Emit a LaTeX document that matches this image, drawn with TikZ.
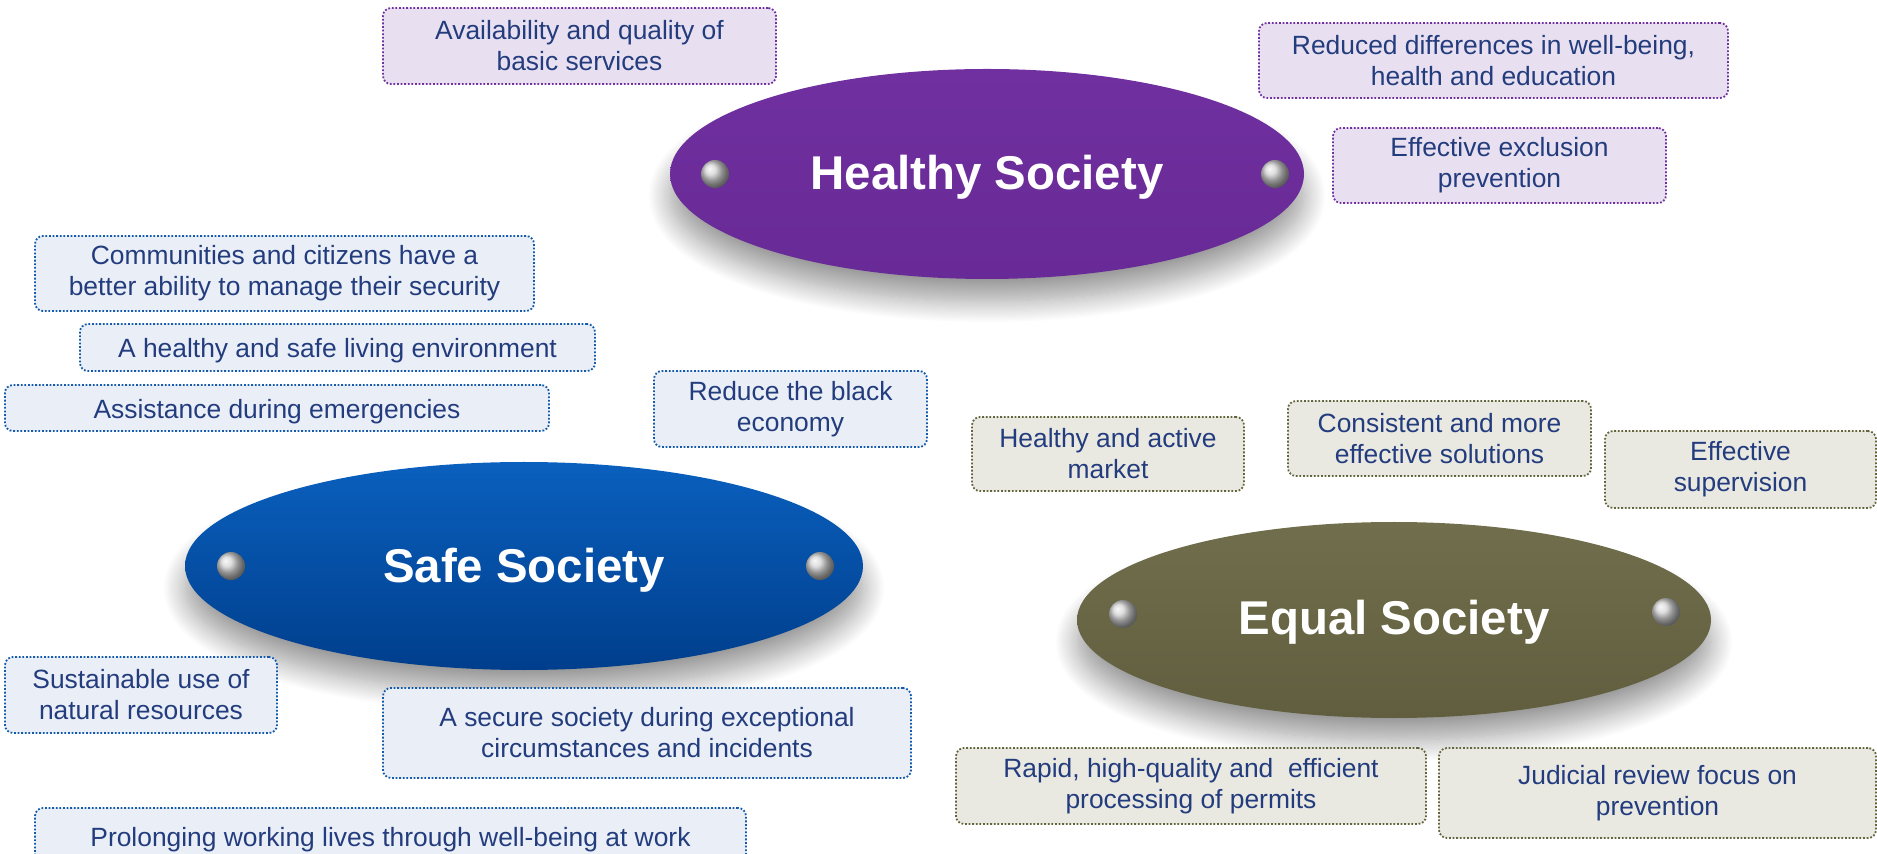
\documentclass[tikz,border=0pt]{standalone}
\usepackage{fontspec}
\setmainfont{Liberation Sans}
\usetikzlibrary{shapes.geometric,shadows.blur}
\definecolor{txtblue}{RGB}{35,60,125}
\definecolor{hpurple}{RGB}{112,48,160}
\definecolor{hpurpledark}{RGB}{104,42,150}
\definecolor{sblue}{RGB}{10,96,190}
\definecolor{sbluedark}{RGB}{0,62,140}
\definecolor{eolive}{RGB}{112,110,76}
\definecolor{eolivedark}{RGB}{96,94,62}
\definecolor{pfill}{RGB}{232,224,240}
\definecolor{bfill}{RGB}{234,239,247}
\definecolor{bline}{RGB}{20,90,170}
\definecolor{ofill}{RGB}{233,233,226}
\definecolor{oline}{RGB}{100,100,60}
\begin{document}
\begin{tikzpicture}[x=0.5pt,y=-0.5pt,
  goal/.style={ellipse,inner sep=0pt,text=white,font=\bfseries\fontsize{23.7}{26}\selectfont,
    blur shadow={shadow xshift=0pt,shadow yshift=-11pt,shadow blur radius=11pt,shadow blur steps=20,shadow opacity=40}},
  knob/.style={circle,minimum size=14pt,inner sep=0pt,shading=ball,ball color=gray!35},
  aim/.style={rounded corners=4pt,align=center,inner sep=0pt,text=txtblue,
    line width=0.9pt,dash pattern=on 0.9pt off 0.9pt,font=\fontsize{13.2}{15.5}\selectfont,
    execute at begin node=\rule{0pt}{13pt}},
  paim/.style={aim,draw=hpurple,fill=pfill},
  baim/.style={aim,draw=bline,fill=bfill},
  oaim/.style={aim,draw=oline,fill=ofill}]
\useasboundingbox (0,0) rectangle (1877,854);
\node[goal,minimum width=317pt,minimum height=105pt,top color=hpurple,bottom color=hpurpledark] (healthy) at (987,174) {};
\node[goal,minimum width=339pt,minimum height=104pt,top color=sblue,bottom color=sbluedark] (safe) at (524,566) {};
\node[goal,minimum width=317pt,minimum height=98pt,top color=eolive,bottom color=eolivedark] (equal) at (1394,620) {};
\node[text=white,font=\bfseries\fontsize{23.7}{26}\selectfont] (healthytxt) at (987,177) {Healthy Society};
\node[text=white,font=\bfseries\fontsize{23.7}{26}\selectfont] (safetxt) at (524,570) {Safe Society};
\node[text=white,font=\bfseries\fontsize{23.7}{26}\selectfont] (equaltxt) at (1394,622) {Equal Society};
\node[knob] (healthyL) at (715,174) {};
\node[knob] (healthyR) at (1275,174) {};
\node[knob] (safeL) at (231,566) {};
\node[knob] (safeR) at (820,566) {};
\node[knob] (equalL) at (1123,614) {};
\node[knob] (equalR) at (1666,612) {};
% healthy society
\node[paim,minimum width=196.5pt,minimum height=38pt] (services) at (579.5,46) {Availability and quality of\\basic services};
\node[paim,minimum width=234.5pt,minimum height=37.5pt] (differences) at (1493.5,60.5) {Reduced differences in well-being,\\health and education};
\node[paim,minimum width=166.5pt,minimum height=37.5pt] (exclusion) at (1499.5,165.5) {Effective exclusion\\prevention};
% safe society
\node[baim,minimum width=249.5pt,minimum height=37.5pt] (security) at (284.5,273.5) {Communities and citizens have a\\better ability to manage their security};
\node[baim,minimum width=257.5pt,minimum height=23.5pt] (environment) at (337.5,347.5) {A healthy and safe living environment};
\node[baim,minimum width=272pt,minimum height=23pt] (emergencies) at (277,408) {Assistance during emergencies};
\node[baim,minimum width=136.5pt,minimum height=38pt] (blackeconomy) at (790.5,409) {Reduce the black\\economy};
\node[baim,minimum width=136pt,minimum height=38pt] (resources) at (141,695) {Sustainable use of\\natural resources};
\node[baim,minimum width=264pt,minimum height=45pt] (incidents) at (647,733) {A secure society during exceptional\\circumstances and incidents};
\node[baim,minimum width=355.5pt,minimum height=28pt] (worklife) at (390.5,836) {Prolonging working lives through well-being at work};
% equal society
\node[oaim,minimum width=136pt,minimum height=37pt] (market) at (1108,454) {Healthy and active\\market};
\node[oaim,minimum width=151.5pt,minimum height=37.5pt] (solutions) at (1439.5,438.5) {Consistent and more\\effective solutions};
\node[oaim,minimum width=135.5pt,minimum height=38.5pt] (supervision) at (1740.5,469.5) {Effective\\supervision};
\node[oaim,minimum width=235pt,minimum height=38pt] (permits) at (1191,786) {Rapid, high-quality and\ \ efficient\\processing of permits};
\node[oaim,minimum width=218.5pt,minimum height=45pt] (judicial) at (1657.5,793) {Judicial review focus on\\prevention};
\end{tikzpicture}
\end{document}
